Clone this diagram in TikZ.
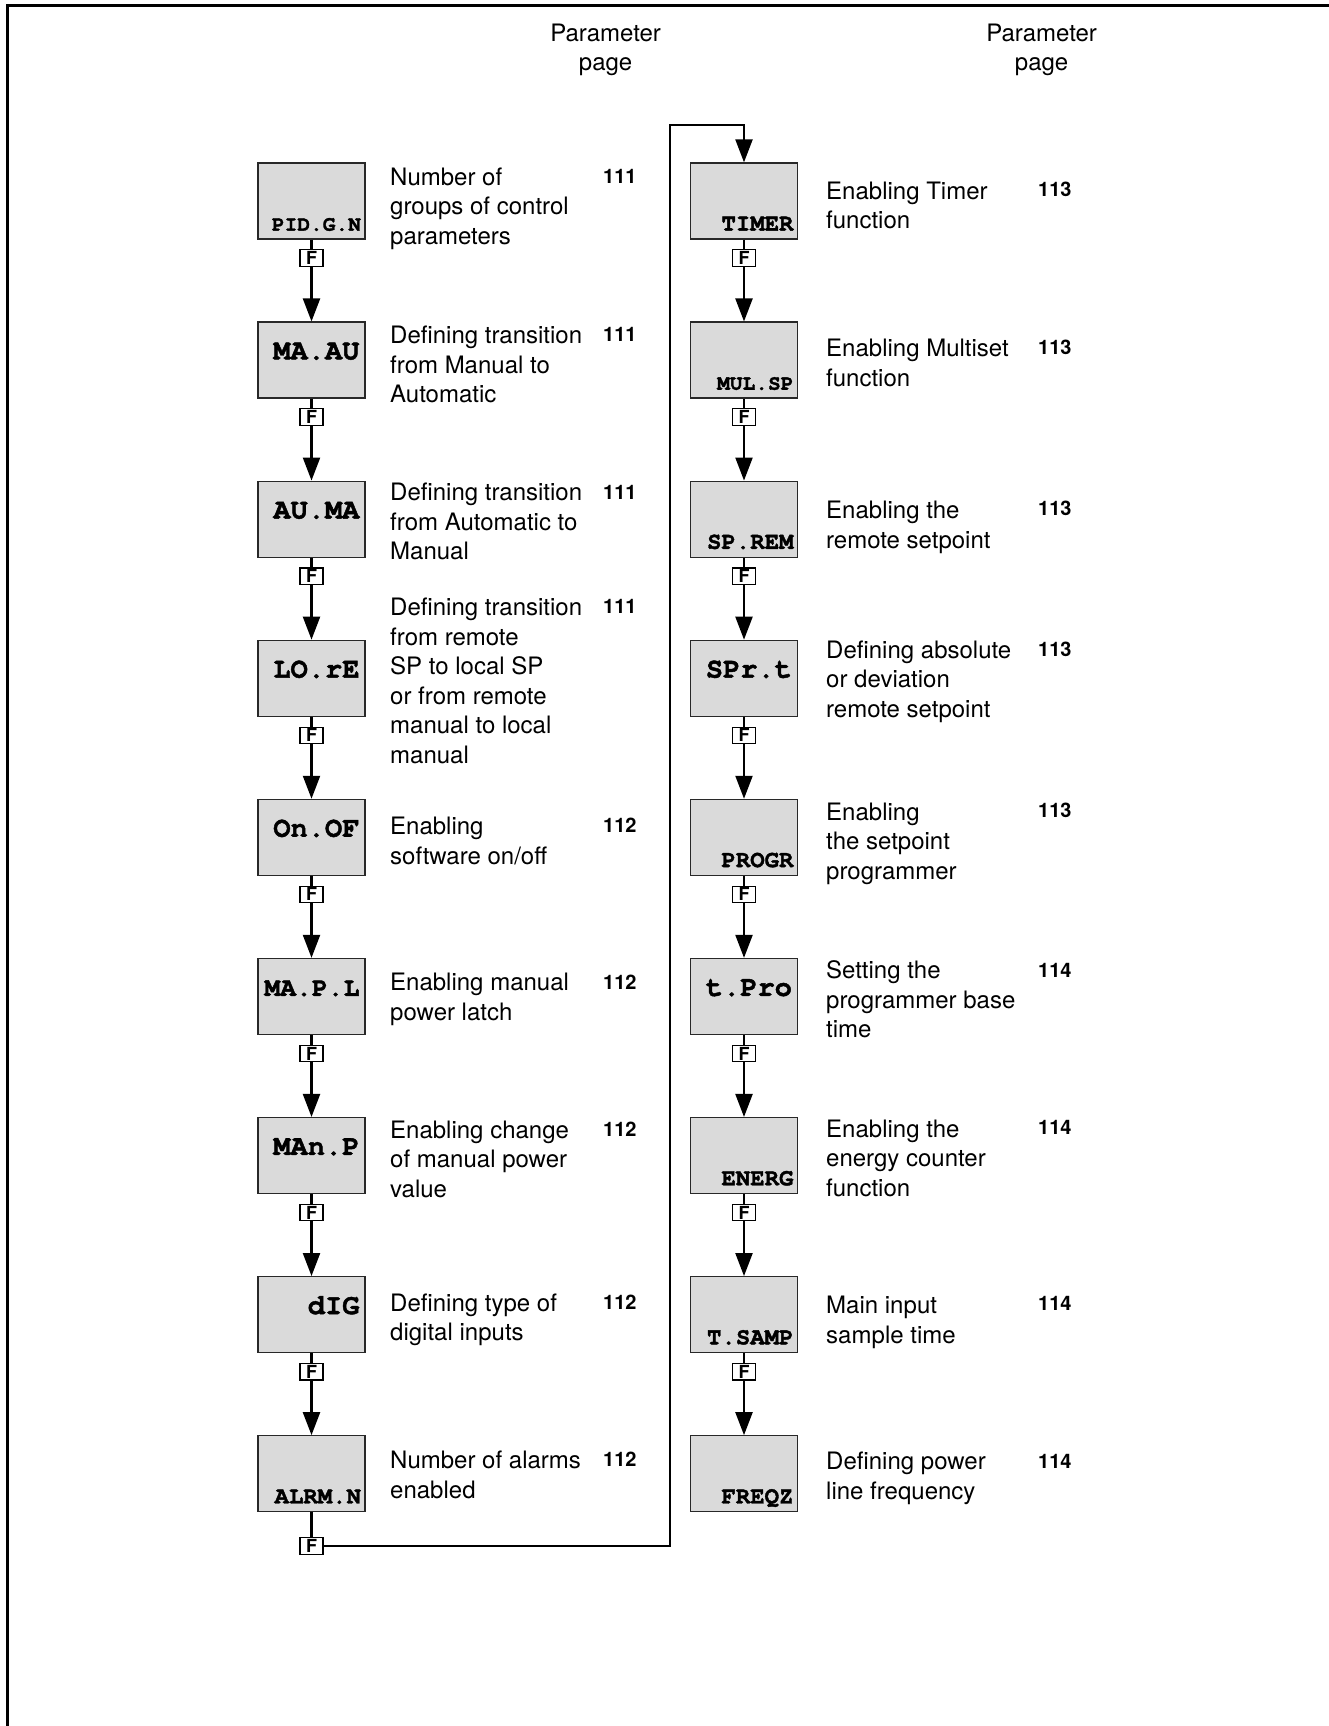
\documentclass[tikz,border=0pt]{standalone}
\usepackage{fontspec}
\setmainfont{TeX Gyre Heros}
\newfontfamily\dispfont{TeX Gyre Cursor}[BoldFeatures={FakeBold=1.6}]
\usetikzlibrary{arrows.meta}
\definecolor{boxgray}{RGB}{218,218,218}
\definecolor{boxedge}{RGB}{40,40,40}

\tikzset{
  disp/.style={draw=boxedge, line width=1.3pt, fill=boxgray,
    minimum width=107pt, minimum height=76pt, inner sep=0pt},
  bigcode/.style={font=\dispfont\bfseries\fontsize{28.7}{30}\selectfont,
    anchor=base east, inner sep=0pt},
  midcode/.style={font=\dispfont\bfseries\fontsize{26.4}{28}\selectfont,
    anchor=base east, inner sep=0pt},
  smallcode/.style={font=\dispfont\bfseries\fontsize{24}{26}\selectfont,
    anchor=base east, inner sep=0pt},
  tinycode/.style={font=\dispfont\bfseries\fontsize{21.2}{23}\selectfont,
    anchor=base east, inner sep=0pt},
  fkey/.style={draw=black, line width=1.1pt, fill=white,
    minimum width=23pt, minimum height=16.5pt, inner sep=0pt,
    font=\bfseries\fontsize{18}{18}\selectfont},
  desc/.style={anchor=north west, inner sep=0pt, align=left,
    font=\fontsize{24}{29.5}\selectfont},
  pagenum/.style={anchor=base west, inner sep=0pt,
    font=\bfseries\fontsize{20}{22}\selectfont},
  headtext/.style={anchor=north, inner sep=0pt, align=center,
    font=\fontsize{24}{28.6}\selectfont},
  flow/.style={line width=2.2pt, draw=black},
  flowarrow/.style={flow, -{Triangle[length=23pt,width=17pt]}},
  frame/.style={line width=3pt, draw=black},
}

\begin{document}
\begin{tikzpicture}[x=1pt, y=-1pt]
\useasboundingbox (0,0) rectangle (1329,1726);

% page frame
\draw[frame] (7,1726) -- (7,5.5) -- (1329,5.5);

% column headings
\node[headtext] (hl) at (605.6,21.6) {\strut Parameter\\page};
\node[headtext] (hr) at (1041.6,21.6) {\strut Parameter\\page};

% display boxes and F keys
\foreach \i in {1,...,9} {
  \pgfmathsetmacro{\cy}{201+159.1*(\i-1)}
  \node[disp] (L\i) at (311.5,\cy) {};
  \node[disp] (R\i) at (744,\cy) {};
}
\foreach \i in {1,...,8} {
  \pgfmathsetmacro{\fy}{201+159.1*(\i-1)+57}
  \node[fkey] (FL\i) at (311.5,\fy) {F};
  \node[fkey] (FR\i) at (744,\fy) {F};
}
\node[fkey] (FL9) at (311.5,1546) {F};

% display mnemonics
\foreach \b/\t/\s in {L1/PID.G.N/tinycode, L9/ALRM.N/smallcode,
    R1/TIMER/smallcode, R2/MUL.SP/tinycode, R3/SP.REM/smallcode,
    R5/PROGR/smallcode, R7/ENERG/smallcode, R8/T.SAMP/smallcode,
    R9/FREQZ/smallcode} {
  \node[\s] (\b t) at ([xshift=-4.5pt,yshift=9pt]\b.south east) {\t};
}
\foreach \b/\t/\s in {L2/MA.AU/bigcode, L3/AU.MA/bigcode, L4/LO.rE/bigcode,
    L5/On.OF/bigcode, L6/MA.P.L/midcode, L7/MAn.P/bigcode, L8/dIG/bigcode,
    R4/SPr.t/bigcode, R6/t.Pro/bigcode} {
  \node[\s] (\b t) at ([xshift=-6pt,yshift=-38pt]\b.north east) {\t};
}

% flow connectors
\foreach \i [evaluate=\i as \j using int(\i+1)] in {1,...,8} {
  \draw[flow] (L\i.south) -- (FL\i.north);
  \draw[flowarrow] (FL\i.south) -- (L\j.north);
  \draw[flow] (R\i.south) -- (FR\i.north);
  \draw[flowarrow] (FR\i.south) -- (R\j.north);
}
\draw[flow] (L9.south) -- (FL9.north);
\coordinate (turn) at (670,125);
\draw[flowarrow] (FL9.east) -| (turn) -| (R1.north);

% descriptions, left column
\node[desc] (dL1) at (390,164.2) {\strut Number of\\groups of control\\parameters};
\node[desc] (dL2) at (390,322.7) {\strut Defining transition\\from Manual to\\Automatic};
\node[desc] (dL3) at (390,480.1) {\strut Defining transition\\from Automatic to\\Manual};
\node[desc] (dL4) at (390,594.7) {\strut Defining transition\\from remote\\SP to local SP\\or from remote\\manual to local\\manual};
\node[desc] (dL5) at (390,813.8) {\strut Enabling\\software on/off};
\node[desc] (dL6) at (390,970.1) {\strut Enabling manual\\power latch};
\node[desc] (dL7) at (390,1117.6) {\strut Enabling change\\of manual power\\value};
\node[desc] (dL8) at (390,1290.5) {\strut Defining type of\\digital inputs};
\node[desc] (dL9) at (390,1447.9) {\strut Number of alarms\\enabled};

% descriptions, right column
\node[desc] (dR1) at (826,178.5) {\strut Enabling Timer\\function};
\node[desc] (dR2) at (826,335.9) {\strut Enabling Multiset\\function};
\node[desc] (dR3) at (826,497.8) {\strut Enabling the\\remote setpoint};
\node[desc] (dR4) at (826,637.6) {\strut Defining absolute\\or deviation\\remote setpoint};
\node[desc] (dR5) at (826,799.4) {\strut Enabling\\the setpoint\\programmer};
\node[desc] (dR6) at (826,958.0) {\strut Setting the\\programmer base\\time};
\node[desc] (dR7) at (826,1116.5) {\strut Enabling the\\energy counter\\function};
\node[desc] (dR8) at (826,1292.7) {\strut Main input\\sample time};
\node[desc] (dR9) at (826,1449.0) {\strut Defining power\\line frequency};

% parameter page numbers
\foreach \n/\y/\p in {1/176.2/111, 2/334.7/111, 3/492.1/111, 4/606.7/111,
    5/825.8/112, 6/982.1/112, 7/1129.6/112, 8/1302.5/112, 9/1459.9/112} {
  \node[pagenum] (pL\n) at (603,\y+7) {\p};
}
\foreach \n/\y/\p in {1/189.4/113, 2/347.9/113, 3/508.7/113, 4/649.6/113,
    5/810.3/113, 6/970.0/114, 7/1127.4/114, 8/1303.6/114, 9/1461.0/114} {
  \node[pagenum] (pR\n) at (1038,\y+7) {\p};
}
\end{tikzpicture}
\end{document}
